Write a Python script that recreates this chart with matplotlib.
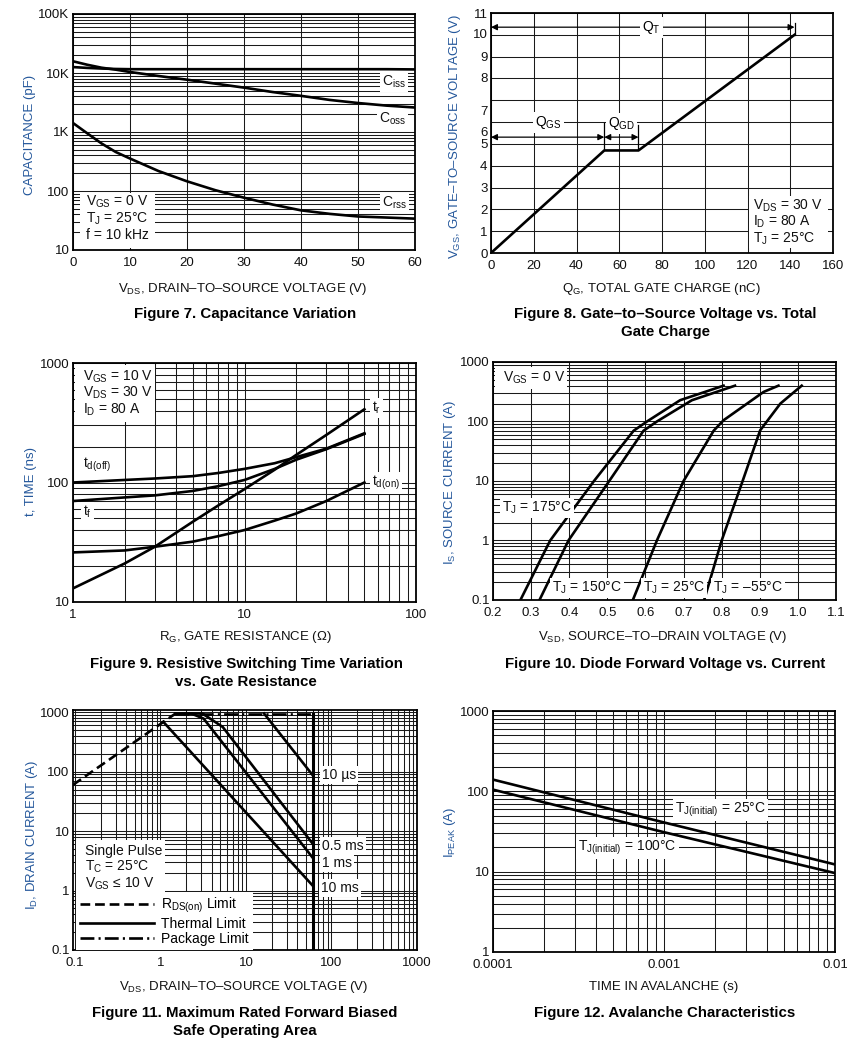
import numpy as np
import matplotlib
matplotlib.use('Agg')
import matplotlib.pyplot as plt
from matplotlib.ticker import LogLocator, NullFormatter, FixedLocator
from matplotlib.lines import Line2D
from matplotlib.patches import Rectangle

# ---------------- data ----------------
# Fig 7 capacitance
cap_vds = [0, 2.5, 5, 7.5, 10, 15, 20, 25, 30, 35, 40, 45, 50, 55, 60]
ciss = [12600, 12200, 11900, 11700, 11600, 11600, 11600, 11600, 11600, 11600, 11600, 11600, 11600, 11600, 11500]
coss = [15800, 13800, 12300, 11400, 10400, 8900, 7700, 6600, 5650, 4760, 4100, 3500, 3100, 2800, 2600]
crss = [1420, 950, 640, 458, 355, 218, 146, 103, 77, 59, 47, 41, 37, 35.5, 34]
cap_ticks = [10, 100, 1000, 10000, 100000]
cap_ticklabels = ['10', '100', '1K', '10K', '100K']

# Fig 8 gate charge
qg = [0, 53, 69, 142]
vgs = [0, 4.7, 4.7, 10]
vgs_label_pos = [0, 1, 2, 3, 4, 5, 5.55, 6.55, 8.05, 9, 10.05, 11]
vgs_labels = ['0', '1', '2', '3', '4', '5', '6', '7', '8', '9', '10', '11']

# Fig 9 switching time
rg = [1, 2, 3, 5, 7, 10, 15, 20, 30, 50]
t_r = [13, 21, 29, 47, 64, 88, 128, 170, 250, 410]
t_doff = [100, 105, 108, 113, 120, 130, 145, 163, 192, 258]
t_f = [70, 75, 78, 85, 93, 105, 130, 155, 190, 255]
t_don = [26, 27, 29, 32, 35.5, 40, 48, 55, 70, 100]

# Fig 10 diode forward
d175_v = [0.272, 0.35, 0.465, 0.569, 0.604, 0.691, 0.805]
d175_i = [0.1, 1, 10, 70, 100, 228, 400]
d150_v = [0.322, 0.398, 0.505, 0.595, 0.63, 0.722, 0.835]
d150_i = [0.1, 1, 10, 70, 100, 228, 400]
d25_v = [0.567, 0.63, 0.70, 0.779, 0.805, 0.91, 0.949]
d25_i = [0.1, 1, 10, 70, 105, 314, 400]
dm55_v = [0.754, 0.80, 0.855, 0.901, 0.954, 1.01]
dm55_i = [0.1, 1, 10, 71, 200, 400]

# Fig 11 SOA
rds_v = [0.095, 1.5]
rds_i = [60, 950]
pkg_v = [1.5, 60]
pkg_i = [950, 950]
soa10us_v = [16.3, 60]
soa10us_i = [950, 88]
soa05ms_v = [1.5, 3.1, 5.35, 60]
soa05ms_i = [950, 950, 565, 6.2]
soa1ms_v = [1.5, 2.3, 3.2, 60]
soa1ms_i = [950, 950, 780, 3.6]
soa10ms_v = [1.08, 60]
soa10ms_i = [690, 1.22]
vmax_v = [60, 60]
vmax_i = [0.1, 950]

# Fig 12 avalanche
t_av = [1e-4, 1e-3, 1e-2]
i_av25 = [140, 41, 12.3]
i_av100 = [105, 31, 9.6]

# ---------------- style ----------------
plt.rcParams['font.family'] = ['Liberation Sans', 'DejaVu Sans']
plt.rcParams['mathtext.fontset'] = 'custom'
plt.rcParams['mathtext.rm'] = 'Liberation Sans'
plt.rcParams['mathtext.it'] = 'Liberation Sans:italic'
plt.rcParams['mathtext.bf'] = 'Liberation Sans:bold'
plt.rcParams['lines.scale_dashes'] = False

W, H = 847, 1057
fig = plt.figure(figsize=(W / 100, H / 100), dpi=100)
fig.patch.set_facecolor('white')

BLUE = '#24579b'
TXT = '#111111'
LW = 1.9
GLW = 0.75
FS = 9.5
AFS = 10


def mkax(box):
    l, t, r, b = box
    ax = fig.add_axes([l / W, 1 - b / H, (r - l) / W, (b - t) / H])
    ax.set_axisbelow(True)
    for s in ax.spines.values():
        s.set_linewidth(1.3)
    ax.tick_params(which='both', length=0, labelsize=FS, colors=TXT)
    ax.tick_params(axis='x', pad=5)
    ax.tick_params(axis='y', pad=2.5)
    ax._box = box
    return ax


def logminor(axis):
    axis.set_minor_locator(LogLocator(base=10, subs=np.arange(2, 10) * 1.0, numticks=100))
    axis.set_minor_formatter(NullFormatter())


def axfrac(ax, x, y):
    l, t, r, b = ax._box
    return (x - l) / (r - l), (b - y) / (b - t)


def atext(ax, x, y, s, box=False, pad=1.5, **kw):
    fx, fy = axfrac(ax, x, y)
    kw.setdefault('fontsize', AFS)
    kw.setdefault('va', 'center')
    kw.setdefault('color', TXT)
    if box:
        kw['bbox'] = dict(facecolor='white', edgecolor='none', pad=pad)
    ax.text(fx, fy, s, transform=ax.transAxes, clip_on=False, zorder=5, **kw)


def wrect(ax, x0, y0, x1, y1):
    fx0, fy1 = axfrac(ax, x0, y0)
    fx1, fy0 = axfrac(ax, x1, y1)
    ax.add_patch(Rectangle((fx0, fy0), fx1 - fx0, fy1 - fy0, transform=ax.transAxes,
                           facecolor='white', edgecolor='none', zorder=1))


def ftext(x, y, s, **kw):
    fig.text(x / W, 1 - y / H, s, **kw)


def ylab(x, y, s):
    ftext(x, y, s, rotation=90, ha='center', va='center', color=BLUE, fontsize=FS)


def xlab(x, y, s):
    ftext(x, y, s, ha='center', va='center', color=TXT, fontsize=FS)


def caption(x, y, s):
    ftext(x, y, s, ha='center', va='center', color='black', fontsize=10.8, fontweight='bold')


def grid(ax, which='both', axis='both'):
    ax.grid(True, which=which, axis=axis, color='#1a1a1a', lw=GLW)


def sub(s):
    return '$_{\\mathregular{' + s + '}}$'


# ---------------- Figure 7 ----------------
ax7 = mkax((73, 14, 415, 250))
ax7.set_yscale('log')
ax7.set_xlim(0, 60)
ax7.set_ylim(10, 100000)
ax7.set_xticks([0, 10, 20, 30, 40, 50, 60])
ax7.yaxis.set_major_locator(FixedLocator(cap_ticks))
ax7.set_yticklabels(cap_ticklabels)
logminor(ax7.yaxis)
grid(ax7, 'major', 'x')
grid(ax7, 'both', 'y')
for c in (ciss, coss, crss):
    ax7.plot(cap_vds, c, color='k', lw=LW, zorder=3, solid_capstyle='butt')
atext(ax7, 382, 82, 'C' + sub('iss'), box=True, ha='left')
atext(ax7, 379, 119, 'C' + sub('oss'), box=True, ha='left')
atext(ax7, 382, 203, 'C' + sub('rss'), box=True, ha='left')
wrect(ax7, 80, 193, 155, 248)
atext(ax7, 86, 202, 'V' + sub('GS') + ' = 0 V', ha='left')
atext(ax7, 86, 219, 'T' + sub('J') + ' = 25°C', ha='left')
atext(ax7, 86, 235, 'f = 10 kHz', ha='left')
ylab(30, 135, 'CAPACITANCE (pF)')
xlab(243, 289, 'V' + sub('DS') + ', DRAIN–TO–SOURCE VOLTAGE (V)')
caption(245, 314, 'Figure 7. Capacitance Variation')

# ---------------- Figure 8 ----------------
ax8 = mkax((491, 13, 833, 253))
ax8.set_xlim(0, 160)
ax8.set_ylim(0, 11)
ax8.set_xticks(range(0, 161, 20))
ax8.yaxis.remove_overlapping_locs = False
ax8.yaxis.set_major_locator(FixedLocator(range(0, 12)))
ax8.yaxis.set_major_formatter(NullFormatter())
ax8.yaxis.set_minor_locator(FixedLocator(vgs_label_pos))
ax8.set_yticklabels(vgs_labels, minor=True)
ax8.tick_params(axis='y', which='minor', labelsize=FS, pad=2.5)
grid(ax8, 'major', 'both')
ax8.plot(qg, vgs, color='k', lw=LW, zorder=3)
aprops = dict(arrowstyle='<|-|>', color='k', lw=0.9, shrinkA=0, shrinkB=0, mutation_scale=9)
ax8.annotate('', xy=(qg[0], 10.35), xytext=(qg[3], 10.35), arrowprops=aprops, zorder=4)
ax8.annotate('', xy=(qg[0], 5.31), xytext=(qg[1], 5.31), arrowprops=aprops, zorder=4)
ax8.annotate('', xy=(qg[1], 5.31), xytext=(qg[2], 5.31), arrowprops=aprops, zorder=4)
ax8.plot([qg[3], qg[3]], [vgs[3], 10.55], color='k', lw=0.9, zorder=4)
ax8.plot([qg[1], qg[1]], [vgs[1], 5.96], color='k', lw=0.9, zorder=4)
ax8.plot([qg[2], qg[2]], [vgs[2], 5.87], color='k', lw=0.9, zorder=4)
ax8.text(75, 10.33, 'Q' + sub('T'), ha='center', va='center', fontsize=AFS, zorder=5,
         bbox=dict(facecolor='white', edgecolor='none', pad=1.5))
ax8.text(27, 5.98, 'Q' + sub('GS'), ha='center', va='center', fontsize=AFS, zorder=5,
         bbox=dict(facecolor='white', edgecolor='none', pad=1.5))
ax8.text(61, 5.95, 'Q' + sub('GD'), ha='center', va='center', fontsize=AFS, zorder=5,
         bbox=dict(facecolor='white', edgecolor='none', pad=1.5))
wrect(ax8, 749, 196, 828, 248)
atext(ax8, 753, 206, 'V' + sub('DS') + ' = 30 V', ha='left')
atext(ax8, 753, 222, 'I' + sub('D') + ' = 80 A', ha='left')
atext(ax8, 753, 239, 'T' + sub('J') + ' = 25°C', ha='left')
ylab(455, 137, 'V' + sub('GS') + ', GATE–TO–SOURCE VOLTAGE (V)')
xlab(661, 289, 'Q' + sub('G') + ', TOTAL GATE CHARGE (nC)')
caption(665, 314, 'Figure 8. Gate–to–Source Voltage vs. Total')
caption(665, 332, 'Gate Charge')

# ---------------- Figure 9 ----------------
ax9 = mkax((73, 363, 416, 602))
ax9.set_xscale('log')
ax9.set_yscale('log')
ax9.set_xlim(1, 100)
ax9.set_ylim(10, 1000)
ax9.xaxis.set_major_locator(FixedLocator([1, 10, 100]))
ax9.set_xticklabels(['1', '10', '100'])
ax9.yaxis.set_major_locator(FixedLocator([10, 100, 1000]))
ax9.set_yticklabels(['10', '100', '1000'])
logminor(ax9.xaxis)
logminor(ax9.yaxis)
grid(ax9, 'both', 'both')
for c in (t_r, t_doff, t_f, t_don):
    ax9.plot(rg, c, color='k', lw=LW, zorder=3)
wrect(ax9, 75, 365, 155, 422)
atext(ax9, 83, 377, 'V' + sub('GS') + ' = 10 V', ha='left')
atext(ax9, 83, 393, 'V' + sub('DS') + ' = 30 V', ha='left')
atext(ax9, 83, 410, 'I' + sub('D') + ' = 80 A', ha='left')
atext(ax9, 372, 408, 't' + sub('r'), box=True, ha='left')
atext(ax9, 83, 465, 't' + sub('d(off)'), box=True, ha='left')
atext(ax9, 83, 512, 't' + sub('f'), box=True, ha='left')
atext(ax9, 372, 483, 't' + sub('d(on)'), box=True, ha='left')
ylab(31, 482, 't, TIME (ns)')
xlab(245, 637, 'R' + sub('G') + ', GATE RESISTANCE (Ω)')
caption(246, 664, 'Figure 9. Resistive Switching Time Variation')
caption(246, 682, 'vs. Gate Resistance')

# ---------------- Figure 10 ----------------
ax10 = mkax((493, 362, 836, 600))
ax10.set_yscale('log')
ax10.set_xlim(0.2, 1.1)
ax10.set_ylim(0.1, 1000)
ax10.set_xticks(np.round(np.arange(0.2, 1.11, 0.1), 1))
ax10.set_xticklabels(['0.2', '0.3', '0.4', '0.5', '0.6', '0.7', '0.8', '0.9', '1.0', '1.1'])
ax10.yaxis.set_major_locator(FixedLocator([0.1, 1, 10, 100, 1000]))
ax10.set_yticklabels(['0.1', '1', '10', '100', '1000'])
logminor(ax10.yaxis)
grid(ax10, 'major', 'x')
grid(ax10, 'both', 'y')
for v, i in ((d175_v, d175_i), (d150_v, d150_i), (d25_v, d25_i), (dm55_v, dm55_i)):
    ax10.plot(v, i, color='k', lw=LW, zorder=3)
wrect(ax10, 495, 367, 567, 389)
atext(ax10, 503, 378, 'V' + sub('GS') + ' = 0 V', ha='left')
atext(ax10, 502, 508, 'T' + sub('J') + ' = 175°C', box=True, ha='left')
atext(ax10, 552, 588, 'T' + sub('J') + ' = 150°C', box=True, ha='left')
atext(ax10, 643, 588, 'T' + sub('J') + ' = 25°C', box=True, ha='left')
atext(ax10, 713, 588, 'T' + sub('J') + ' = –55°C', box=True, ha='left')
ylab(450, 482, 'I' + sub('S') + ', SOURCE CURRENT (A)')
xlab(663, 637, 'V' + sub('SD') + ', SOURCE–TO–DRAIN VOLTAGE (V)')
caption(665, 664, 'Figure 10. Diode Forward Voltage vs. Current')

# ---------------- Figure 11 ----------------
ax11 = mkax((73, 710, 417, 950))
ax11.set_xscale('log')
ax11.set_yscale('log')
ax11.set_xlim(0.095, 1000)
ax11.set_ylim(0.1, 1090)
ax11.xaxis.set_major_locator(FixedLocator([0.1, 1, 10, 100, 1000]))
ax11.set_xticklabels(['0.1', '1', '10', '100', '1000'])
ax11.yaxis.set_major_locator(FixedLocator([0.1, 1, 10, 100, 1000]))
ax11.set_yticklabels(['0.1', '1', '10', '100', '1000'])
logminor(ax11.xaxis)
logminor(ax11.yaxis)
grid(ax11, 'both', 'both')
dash = (0, (7, 3.5))
dashdot = (0, (10, 3, 1.5, 3))
ax11.plot(rds_v, rds_i, color='k', lw=LW, ls=dash, zorder=3)
ax11.plot(pkg_v, pkg_i, color='k', lw=LW, ls=dashdot, zorder=3)
for v, i in ((soa10us_v, soa10us_i), (soa05ms_v, soa05ms_i), (soa1ms_v, soa1ms_i), (soa10ms_v, soa10ms_i)):
    ax11.plot(v, i, color='k', lw=LW, zorder=3)
ax11.plot(vmax_v, vmax_i, color='k', lw=2.2, zorder=3)
atext(ax11, 322, 775, '10 µs', box=True, ha='left')
atext(ax11, 322, 846, '0.5 ms', box=True, ha='left')
atext(ax11, 322, 863, '1 ms', box=True, ha='left')
atext(ax11, 321, 888, '10 ms', box=True, ha='left')
wrect(ax11, 76, 840, 165, 893)
atext(ax11, 85, 851, 'Single Pulse', ha='left')
atext(ax11, 85, 867, 'T' + sub('C') + ' = 25°C', ha='left')
atext(ax11, 85, 884, 'V' + sub('GS') + ' ≤ 10 V', ha='left')
handles = [Line2D([], [], color='k', lw=LW, ls=dash),
           Line2D([], [], color='k', lw=LW),
           Line2D([], [], color='k', lw=LW, ls=dashdot)]
fx, fy = axfrac(ax11, 76, 892)
leg = ax11.legend(handles, ['R' + sub('DS(on)') + ' Limit', 'Thermal Limit', 'Package Limit'],
                  loc='upper left', bbox_to_anchor=(fx, fy), fontsize=AFS, frameon=True,
                  fancybox=False, framealpha=1, edgecolor='none', handlelength=5.3,
                  handletextpad=0.5, labelspacing=0.08, borderpad=0.3, borderaxespad=0)
leg.set_zorder(6)
ylab(32, 835, 'I' + sub('D') + ', DRAIN CURRENT (A)')
xlab(244, 987, 'V' + sub('DS') + ', DRAIN–TO–SOURCE VOLTAGE (V)')
caption(245, 1013, 'Figure 11. Maximum Rated Forward Biased')
caption(245, 1031, 'Safe Operating Area')

# ---------------- Figure 12 ----------------
ax12 = mkax((493, 711, 835, 952))
ax12.set_xscale('log')
ax12.set_yscale('log')
ax12.set_xlim(1e-4, 1e-2)
ax12.set_ylim(1, 1000)
ax12.xaxis.set_major_locator(FixedLocator([1e-4, 1e-3, 1e-2]))
ax12.set_xticklabels(['0.0001', '0.001', '0.01'])
ax12.yaxis.set_major_locator(FixedLocator([1, 10, 100, 1000]))
ax12.set_yticklabels(['1', '10', '100', '1000'])
logminor(ax12.xaxis)
logminor(ax12.yaxis)
grid(ax12, 'both', 'both')
ax12.plot(t_av, i_av25, color='k', lw=LW, zorder=3)
ax12.plot(t_av, i_av100, color='k', lw=LW, zorder=3)
atext(ax12, 675, 810, 'T' + sub('J(initial)') + ' = 25°C', box=True, ha='left')
atext(ax12, 578, 848, 'T' + sub('J(initial)') + ' = 100°C', box=True, ha='left')
ylab(450, 832, 'I' + sub('PEAK') + ' (A)')
xlab(664, 987, 'TIME IN AVALANCHE (s)')
caption(665, 1013, 'Figure 12. Avalanche Characteristics')

fig.savefig('out.png', dpi=100, facecolor='white')
